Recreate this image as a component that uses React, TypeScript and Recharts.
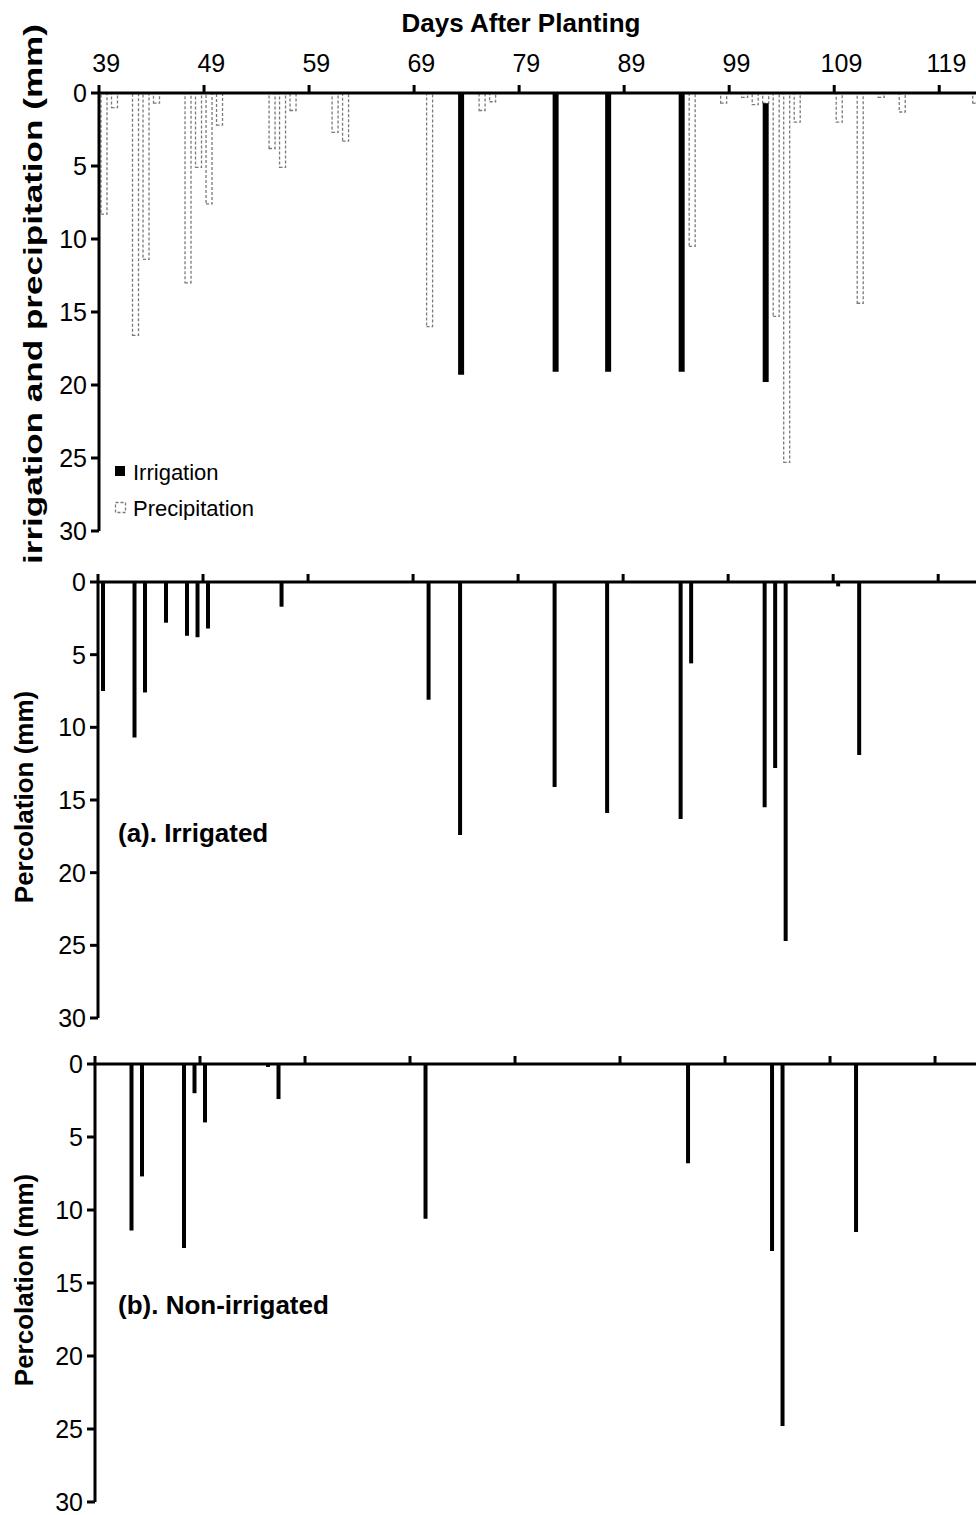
import React from "react";
import { BarChart, Bar, XAxis, YAxis, Legend, Label } from "recharts";

// days after planting and daily depths (mm)
const precipDays = [39, 40, 42, 43, 44, 47, 48, 49, 50, 55, 56, 57, 61, 62, 70, 75, 76, 95, 98, 100, 101, 102, 103, 104, 105, 109, 111, 113, 115, 122];
const precipMm = [8.3, 1.0, 16.6, 11.4, 0.7, 13.0, 5.1, 7.6, 2.2, 3.8, 5.1, 1.2, 2.7, 3.3, 16.0, 1.2, 0.6, 10.5, 0.7, 0.3, 0.8, 0.7, 15.3, 25.3, 2.0, 2.0, 14.4, 0.3, 1.3, 0.7];

const irrigDays = [73, 82, 87, 94, 102];
const irrigMm = [19.3, 19.1, 19.1, 19.1, 19.1];

const percIrrigatedDays = [39, 42, 43, 45, 47, 48, 49, 56, 70, 73, 82, 87, 94, 95, 102, 103, 104, 109, 111];
const percIrrigatedMm = [7.5, 10.7, 7.6, 2.8, 3.7, 3.8, 3.2, 1.7, 8.1, 17.4, 14.1, 15.9, 16.3, 5.6, 15.5, 12.8, 24.7, 0.3, 11.9];

const percDryDays = [42, 43, 47, 48, 49, 55, 56, 70, 95, 103, 104, 111];
const percDryMm = [11.4, 7.7, 12.6, 2.0, 4.0, 0.2, 2.4, 10.6, 6.8, 12.8, 24.8, 11.5];

const dayTicks = [39, 49, 59, 69, 79, 89, 99, 109, 119];
const mmTicks = [0, 5, 10, 15, 20, 25, 30];

type WaterRow = { day: number; precipitation: number; irrigation: number };

const waterRows: WaterRow[] = (() => {
  const byDay = new Map<number, WaterRow>();
  const get = (d: number) => {
    if (!byDay.has(d)) byDay.set(d, { day: d, precipitation: 0, irrigation: 0 });
    return byDay.get(d)!;
  };
  precipDays.forEach((d, i) => (get(d).precipitation = precipMm[i]));
  irrigDays.forEach((d, i) => (get(d).irrigation = irrigMm[i]));
  return [...byDay.values()].sort((a, b) => a.day - b.day);
})();

const toRows = (days: number[], mm: number[]) => days.map((day, i) => ({ day, percolation: mm[i] }));
const irrigatedRows = toRows(percIrrigatedDays, percIrrigatedMm);
const dryRows = toRows(percDryDays, percDryMm);

const FONT = "'Liberation Sans', Arial, sans-serif";
const HALF_DAY = 5.25; // half a day width in px, tick marks sit on day boundaries
const axisStroke = { stroke: "#000", strokeWidth: 3 };
const PRECIP_STROKE = "#7a7a7a";

const DayTick = ({ x, y, payload, showLabel }: any) => (
  <g>
    <line x1={x - HALF_DAY} x2={x - HALF_DAY} y1={y} y2={y - 8} stroke="#000" strokeWidth={3} />
    {showLabel && (
      <text x={x + 2} y={y - 21} textAnchor="middle" fontSize={25} fill="#000" fontFamily={FONT}>
        {payload.value}
      </text>
    )}
  </g>
);

const RotatedTitle = ({ x, y, text, length }: { x: number; y: number; text: string; length?: number }) => (
  <text
    x={x}
    y={y}
    transform={`rotate(-90 ${x} ${y})`}
    textAnchor="middle"
    fontSize={26}
    fontWeight="bold"
    fill="#000"
    fontFamily={FONT}
    textLength={length}
    lengthAdjust={length ? "spacingAndGlyphs" : undefined}
  >
    {text}
  </text>
);

const PlainText = ({ x, y, text, anchor = "start" }: { x: number; y: number; text: string; anchor?: string }) => (
  <text x={x} y={y} textAnchor={anchor as any} fontSize={26} fontWeight="bold" fill="#000" fontFamily={FONT}>
    {text}
  </text>
);

const WaterLegend = () => (
  <svg width={170} height={62} style={{ display: "block" }}>
    <rect x={3} y={8} width={10} height={10} fill="#000" />
    <text x={21} y={22} fontSize={22} fill="#000" fontFamily={FONT}>
      Irrigation
    </text>
    <rect x={3.5} y={44.5} width={10} height={10} fill="#fff" stroke={PRECIP_STROKE} strokeWidth={1.3} strokeDasharray="3 2" />
    <text x={21} y={58} fontSize={22} fill="#000" fontFamily={FONT}>
      Precipitation
    </text>
  </svg>
);

const yAxisProps = {
  type: "number" as const,
  domain: [0, 30],
  ticks: mmTicks,
  reversed: true,
  interval: 0 as const,
  tickSize: 8,
  tickMargin: 4,
  axisLine: axisStroke,
  tickLine: axisStroke,
  tick: { fontSize: 25, fill: "#000", fontFamily: FONT },
};

const xAxisProps = {
  dataKey: "day",
  type: "number" as const,
  orientation: "top" as const,
  ticks: dayTicks,
  interval: 0 as const,
  tickSize: 0,
  tickMargin: 0,
  tickLine: false,
  axisLine: axisStroke,
  allowDataOverflow: true,
};

export default function App() {
  return (
    <div style={{ position: "absolute", left: 0, top: 0, width: 976, height: 1515, overflow: "hidden", background: "#fff", fontFamily: FONT }}>
      {/* irrigation and precipitation */}
      <div style={{ position: "absolute", left: 0, top: 0, zIndex: 2 }}>
        <BarChart width={976} height={575} data={waterRows} margin={{ top: 0, right: 0, bottom: 44, left: 0 }}>
          <XAxis {...xAxisProps} height={93} domain={[38.5, 122]} tick={<DayTick showLabel />}>
            <Label content={() => <PlainText x={521} y={32} text="Days After Planting" anchor="middle" />} />
          </XAxis>
          <YAxis {...yAxisProps} width={99}>
            <Label content={() => <RotatedTitle x={42} y={294} text="irrigation and precipitation (mm)" length={540} />} />
          </YAxis>
          <Legend
            layout="vertical"
            align="center"
            verticalAlign="middle"
            wrapperStyle={{ left: 112, top: 458, width: 170 }}
            content={() => <WaterLegend />}
          />
          <Bar
            dataKey="precipitation"
            name="Precipitation"
            stackId="water"
            barSize={6}
            fill="#fff"
            stroke={PRECIP_STROKE}
            strokeWidth={1.3}
            strokeDasharray="3 2"
            isAnimationActive={false}
          />
          <Bar dataKey="irrigation" name="Irrigation" stackId="water" barSize={6} fill="#000" isAnimationActive={false} />
        </BarChart>
      </div>

      {/* (a) irrigated percolation */}
      <div style={{ position: "absolute", left: 0, top: 550 }}>
        <BarChart width={976} height={490} data={irrigatedRows} margin={{ top: 0, right: 0, bottom: 22, left: 0 }}>
          <XAxis {...xAxisProps} height={32} domain={[38.5, 122.1]} tick={<DayTick />}>
            <Label content={() => <PlainText x={118} y={292} text="(a). Irrigated" />} />
          </XAxis>
          <YAxis {...yAxisProps} width={98}>
            <Label content={() => <RotatedTitle x={33} y={247} text="Percolation (mm)" />} />
          </YAxis>
          <Bar dataKey="percolation" name="Percolation" barSize={4} fill="#000" isAnimationActive={false} />
        </BarChart>
      </div>

      {/* (b) non-irrigated percolation */}
      <div style={{ position: "absolute", left: 0, top: 1040 }}>
        <BarChart width={976} height={475} data={dryRows} margin={{ top: 0, right: 0, bottom: 13, left: 0 }}>
          <XAxis {...xAxisProps} height={24} domain={[38.5, 122.4]} tick={<DayTick />}>
            <Label content={() => <PlainText x={118} y={274} text="(b). Non-irrigated" />} />
          </XAxis>
          <YAxis {...yAxisProps} width={95}>
            <Label content={() => <RotatedTitle x={33} y={240} text="Percolation (mm)" />} />
          </YAxis>
          <Bar dataKey="percolation" name="Percolation" barSize={4} fill="#000" isAnimationActive={false} />
        </BarChart>
      </div>
    </div>
  );
}
